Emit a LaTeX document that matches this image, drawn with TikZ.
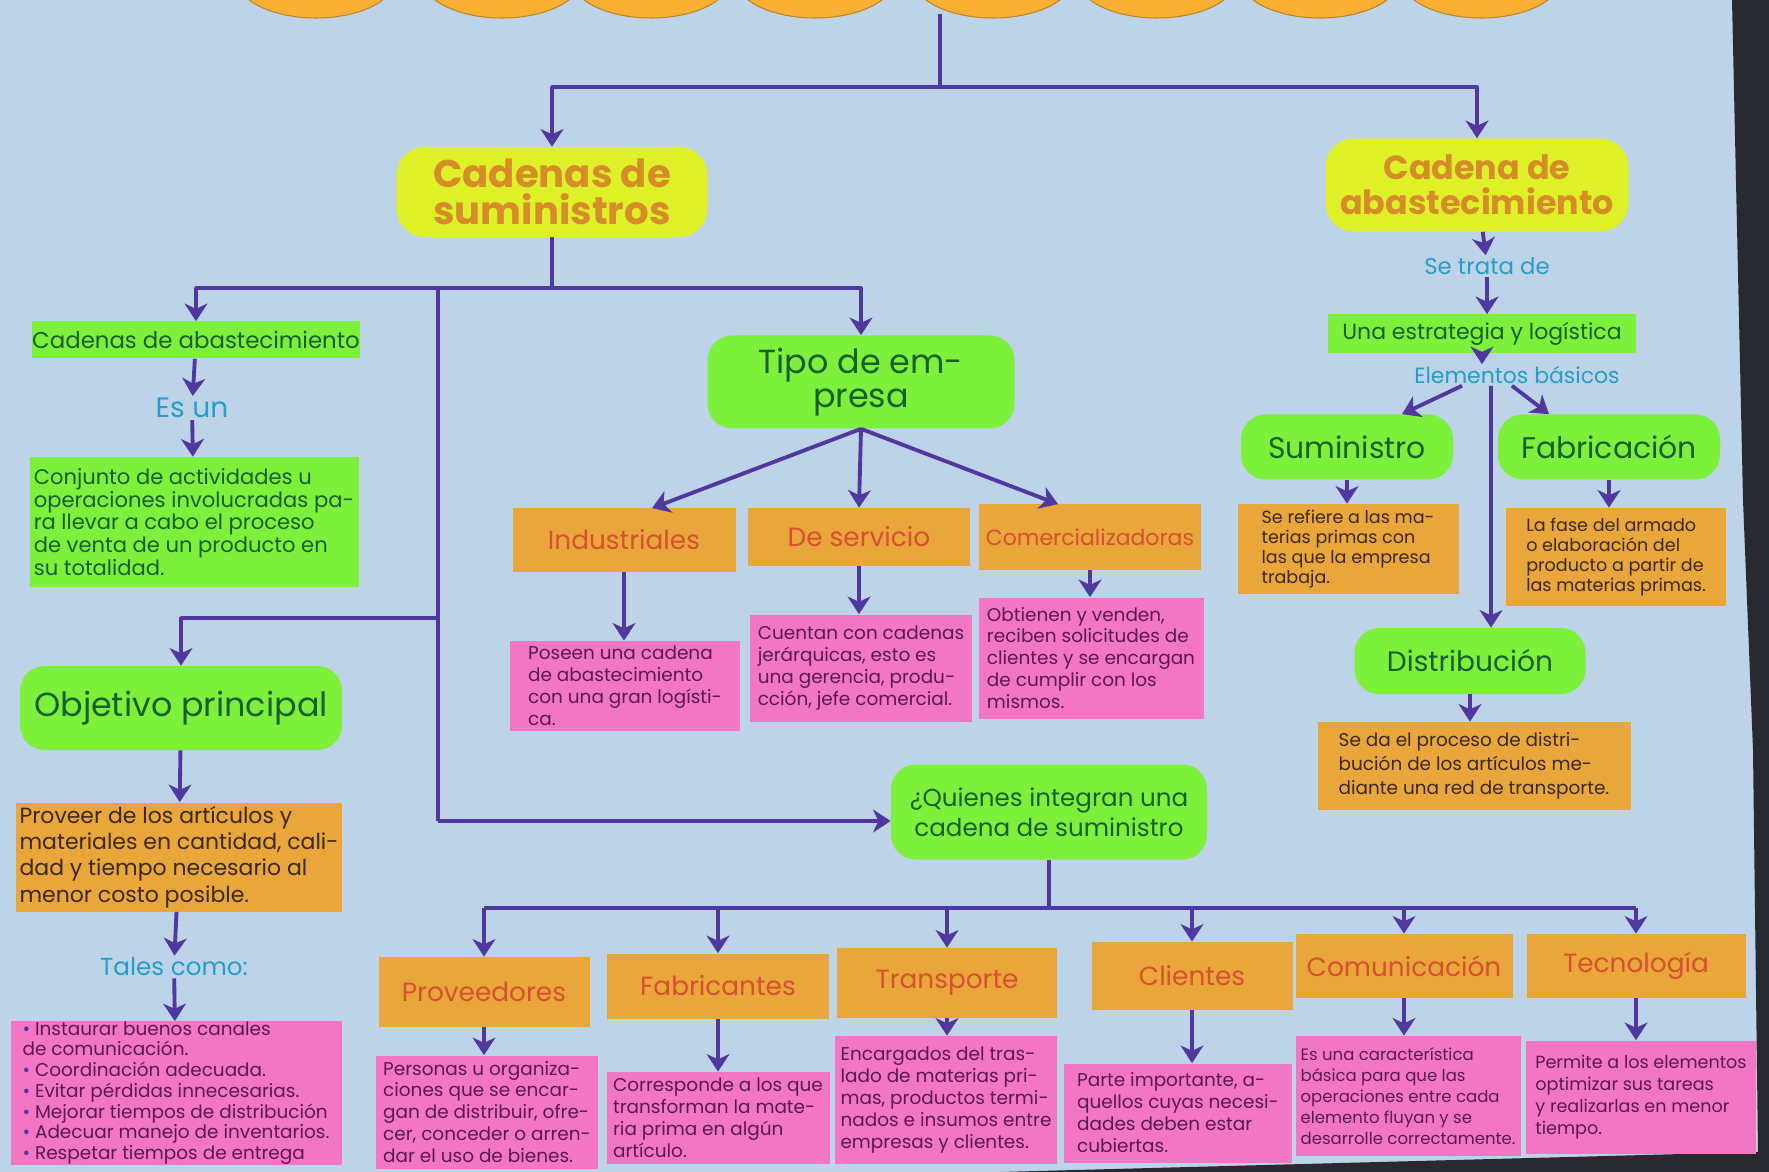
\documentclass[tikz,border=0pt]{standalone}
\usepackage{fontspec}
\setmainfont{Poppins}
\usetikzlibrary{arrows.meta}
\definecolor{papel}{RGB}{188,211,232}
\definecolor{oscuro}{RGB}{40,42,48}
\definecolor{ink}{RGB}{80,56,160}
\definecolor{lima}{RGB}{222,240,40}
\definecolor{neon}{RGB}{125,240,60}
\definecolor{naranja}{RGB}{233,166,58}
\definecolor{naranjon}{RGB}{252,176,52}
\definecolor{rosado}{RGB}{243,118,196}
\definecolor{celeste}{RGB}{38,158,200}
\definecolor{verdet}{RGB}{25,95,45}
\definecolor{naranjat}{RGB}{214,140,40}
\definecolor{rojot}{RGB}{215,80,50}
\definecolor{cafe}{RGB}{60,40,20}
\definecolor{moradot}{RGB}{90,25,80}
\newcommand\tam[2]{\fontsize{#1}{#2}\selectfont}
\tikzset{
  wh/.style 2 args={minimum width=#1*0.02cm, minimum height=#2*0.02cm},
  linea/.style={draw=ink, line width=2.2pt, line join=round},
  flecha/.style={linea, -{Stealth[length=10pt, width=13pt, inset=3pt]}},
  titulo/.style={fill=lima, rounded corners=16pt, text=naranjat, align=center, inner sep=0pt, font=\tam{22}{21}\bfseries},
  pildora/.style={fill=neon, rounded corners=14pt, text=verdet, align=center, inner sep=0pt},
  verde/.style={fill=neon, text=verdet, align=left, inner sep=0pt},
  etiq/.style={fill=naranja, text=rojot, inner sep=0pt, font=\tam{15}{17}},
  nota/.style={fill=naranja, text=cafe, align=left, inner sep=0pt, font=\tam{10}{11.5}},
  rosa/.style={fill=rosado, text=moradot, align=left, inner sep=0pt, font=\tam{10.5}{12.5}},
  enlace/.style={text=celeste, inner sep=1pt, font=\tam{14}{16}},
}
\begin{document}
\begin{tikzpicture}[x=0.02cm, y=-0.02cm]
\fill[papel] (0,0) rectangle (1769,1172);
\useasboundingbox (0,0) rectangle (1769,1172);
\fill[oscuro] (1732,0) -- (1769,0) -- (1769,1172) -- (1000,1172) -- (1758,1152) -- (1753,750) -- (1743,500) -- cycle;
\begin{scope}
\clip (0,0) rectangle (1769,1172);
\foreach \c in {316,502,651,815,993,1157,1320,1481}
  \filldraw[fill=naranjon, draw=naranjon!75!black, line width=0.6pt] (\c,-22) ellipse [x radius=80, y radius=40];
\end{scope}

\node[titulo, wh={311}{90}] (sumin) at (552,192) {Cadenas de\\suministros};
\node[titulo, wh={303}{93}, font=\tam{19}{20}\bfseries] (abast) at (1477,185) {Cadena de\\abastecimiento};

\node[verde, wh={325}{37}, font=\tam{13}{15}] (cadab) at (196,340) {Cadenas de abastecimiento};
\node[enlace, font=\tam{16}{18}] (esun) at (192,408) {Es un};
\node[verde, wh={329}{130}, font=\tam{12}{13}] (conj) at (194,522) {Conjunto de actividades u\\operaciones involucradas pa-\\ra llevar a cabo el proceso\\de venta de un producto en\\su totalidad.};
\node[pildora, wh={322}{84}, font=\tam{19}{20}] (obj) at (181,708) {Objetivo principal};
\node[nota, wh={326}{109}, font=\tam{12.5}{15}] (prov) at (179,857) {Proveer de los artículos y\\materiales en cantidad, cali-\\dad y tiempo necesario al\\menor costo posible.};
\node[enlace] (tales) at (174,967) {Tales como:};
\node[rosa, wh={331}{142}, font=\tam{10.5}{11.8}] (lista) at (176,1093) {{\color{ink}\textbullet} Instaurar buenos canales\\de comunicación.\\{\color{ink}\textbullet} Coordinación adecuada.\\{\color{ink}\textbullet} Evitar pérdidas innecesarias.\\{\color{ink}\textbullet} Mejorar tiempos de distribución\\{\color{ink}\textbullet} Adecuar manejo de inventarios.\\{\color{ink}\textbullet} Respetar tiempos de entrega};

\node[pildora, wh={307}{93}, font=\tam{19}{19}] (tipo) at (861,382) {Tipo de em-\\presa};
\node[etiq, wh={223}{63}] (ind) at (624,540) {Industriales};
\node[etiq, wh={222}{58}] (serv) at (859,537) {De servicio};
\node[etiq, wh={222}{65}, font=\tam{12.5}{15}] (com) at (1090,537) {Comercializadoras};
\node[rosa, wh={230}{90}] (dind) at (625,686) {Poseen una cadena\\de abastecimiento\\con una gran logísti-\\ca.};
\node[rosa, wh={222}{107}] (dserv) at (861,668) {Cuentan con cadenas\\jerárquicas, esto es\\una gerencia, produ-\\cción, jefe comercial.};
\node[rosa, wh={225}{121}] (dcom) at (1091,658) {Obtienen y venden,\\reciben solicitudes de\\clientes y se encargan\\de cumplir con los\\mismos.};

\node[pildora, wh={316}{95}, font=\tam{14}{17}] (quien) at (1049,812) {¿Quienes integran una\\cadena de suministro};
\node[etiq, wh={211}{70}] (provee) at (484,992) {Proveedores};
\node[etiq, wh={222}{65}] (fabri) at (718,986) {Fabricantes};
\node[etiq, wh={220}{70}] (trans) at (947,983) {Transporte};
\node[etiq, wh={201}{68}] (clien) at (1192,976) {Clientes};
\node[etiq, wh={217}{64}] (comu) at (1404,966) {Comunicación};
\node[etiq, wh={219}{64}] (tecno) at (1636,966) {Tecnología};
\node[rosa, wh={222}{113}] (dprovee) at (487,1112) {Personas u organiza-\\ciones que se encar-\\gan de distribuir, ofre-\\cer, conceder o arren-\\dar el uso de bienes.};
\node[rosa, wh={223}{92}] (dfabri) at (718,1118) {Corresponde a los que\\transforman la mate-\\ria prima en algún\\artículo.};
\node[rosa, wh={222}{128}] (dtrans) at (946,1100) {Encargados del tras-\\lado de materias pri-\\mas, productos termi-\\nados e insumos entre\\empresas y clientes.};
\node[rosa, wh={228}{99}] (dclien) at (1178,1113) {Parte importante, a-\\quellos cuyas necesi-\\dades deben estar\\cubiertas.};
\node[rosa, wh={225}{120}, font=\tam{9.4}{12}] (dcomu) at (1408,1096) {Es una característica\\básica para que las\\operaciones entre cada\\elemento fluyan y se\\desarrolle correctamente.};
\node[rosa, wh={230}{113}, font=\tam{10}{12.5}] (dtecno) at (1641,1097) {Permite a los elementos\\optimizar sus tareas\\y realizarlas en menor\\tiempo.};

\node[enlace, font=\tam{13}{15}] (setrata) at (1487,266) {Se trata de};
\node[verde, wh={308}{39}, font=\tam{12.5}{15}] (estra) at (1482,334) {Una estrategia y logística};
\node[enlace, font=\tam{12.5}{15}] (elem) at (1517,375) {Elementos básicos};
\node[pildora, wh={212}{65}, font=\tam{17}{19}] (sumi) at (1347,447) {Suministro};
\node[pildora, wh={222}{65}, font=\tam{17}{19}] (fabr) at (1609,447) {Fabricación};
\node[nota, wh={221}{90}] (dsumi) at (1348,549) {Se refiere a las ma-\\terias primas con\\las que la empresa\\trabaja.};
\node[nota, wh={220}{98}] (dfabr) at (1616,557) {La fase del armado\\o elaboración del\\producto a partir de\\las materias primas.};
\node[pildora, wh={231}{66}, font=\tam{16}{18}] (dist) at (1470,661) {Distribución};
\node[nota, wh={313}{88}, font=\tam{10.5}{13.5}] (ddist) at (1474,766) {Se da el proceso de distri-\\bución de los artículos me-\\diante una red de transporte.};

\coordinate (raiz) at (940,14);
\coordinate (b1) at (940,87);
\coordinate (b2) at (552,288);
\coordinate (b3) at (438,288);
\coordinate (b4) at (438,821);
\coordinate (b5) at (438,618);
\coordinate (b6) at (1049,908);

\draw[linea] (raiz) -- (b1);
\draw[flecha] (b1) -| (sumin);
\draw[flecha] (b1) -| (abast);
\draw[linea] (sumin) -- (b2);
\draw[flecha] (b2) -| (cadab);
\draw[flecha] (b2) -| (tipo);
\draw[linea] (b3) -- (b4);
\draw[flecha] (b4) -- (b4 -| quien.west);
\draw[flecha] (b5) -| (obj);
\draw[flecha] (cadab) -- (esun);
\draw[flecha] (esun) -- (conj);
\draw[flecha] (obj) -- (prov);
\draw[flecha] (prov) -- (tales);
\draw[flecha] (tales) -- (lista);
\draw[flecha] (tipo.south) -- ([xshift=0.56cm]ind.north);
\draw[flecha] (tipo.south) -- (serv.north);
\draw[flecha] (tipo.south) -- ([xshift=-0.64cm]com.north);
\foreach \n in {ind,serv,com}
  \draw[flecha] (\n) -- (\n |- d\n.north);
\draw[linea] (quien) -- (b6);
\draw[linea] (provee |- b6) -- (tecno |- b6);
\foreach \n in {provee,fabri,trans,clien,comu,tecno}{
  \draw[flecha] (\n |- b6) -- (\n);
  \draw[flecha] (\n) -- (\n |- d\n.north);
}
\draw[flecha] (abast) -- (setrata);
\draw[flecha] (setrata) -- (setrata |- estra.north);
\draw[flecha] (estra.south) -- (estra.south |- elem.north);
\draw[flecha] ([xshift=-1.1cm]elem.south) -- ([xshift=1.1cm]sumi.north);
\draw[flecha] ([xshift=-0.1cm]elem.south) -- ([xshift=-1.2cm]fabr.north);
\draw[flecha] ([xshift=-0.52cm]elem.south) -- ([xshift=0.42cm]dist.north);
\draw[flecha] (sumi) -- (sumi |- dsumi.north);
\draw[flecha] (fabr) -- (fabr |- dfabr.north);
\draw[flecha] (dist) -- (dist |- ddist.north);
\end{tikzpicture}
\end{document}
